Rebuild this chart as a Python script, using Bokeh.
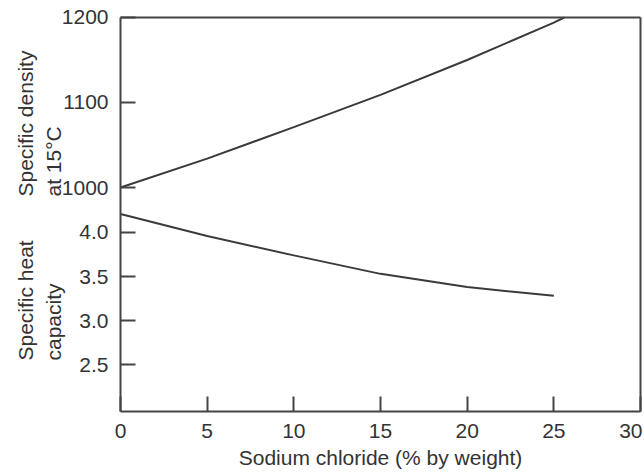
import math
from bokeh.plotting import figure
from bokeh.models import Range1d, FixedTicker, LinearAxis
from bokeh.core.properties import value
from bokeh.embed import file_html
from bokeh.resources import INLINE

# ---- data ----
nacl_pct = [0, 5, 10, 15, 20, 25]
heat_capacity = [4.21, 3.96, 3.74, 3.53, 3.38, 3.28]

density_pct = [0, 5, 10, 15, 20, 25, 25.6]
density = [1000, 1034, 1071, 1109, 1150, 1194, 1200]

x_ticks = [0, 5, 10, 15, 20, 25, 30]
heat_ticks = [2.5, 3.0, 3.5, 4.0]
heat_tick_labels = ["2.5", "3.0", "3.5", "4.0"]
density_ticks = [1000, 1100, 1200]
density_tick_labels = ["1000", "1100", "1200"]

x_title = "Sodium chloride (% by weight)"
density_title = ["Specific density", "at 15°C"]
heat_title = ["Specific heat", "capacity"]

# ---- scales ----
# The plotting box spans x 0..30, heat capacity 1.966..6.443, which is the
# same height as density 736.5..1200.  The frame is padded around the box so
# that the titles and tick labels can be drawn inside it.
BOX_X = (0.0, 30.0)
BOX_HC = (1.966, 6.443)
BOX_D = (736.5, 1200.0)
X_RANGE = (-6.923, 30.115)
HC_RANGE = (1.273, 6.636)
D_RANGE = (664.7, 1220.0)


def dens_to_hc(d):
    return BOX_HC[0] + (d - BOX_D[0]) * (BOX_HC[1] - BOX_HC[0]) / (BOX_D[1] - BOX_D[0])


FONT = "Liberation Sans"
INK = "#333333"
LINE = "#3a3a3a"
AX = "#444444"

p = figure(width=642, height=472,
           x_range=Range1d(*X_RANGE), y_range=Range1d(*HC_RANGE),
           output_backend="svg", toolbar_location=None,
           min_border_left=0, min_border_top=0, min_border_right=0,
           min_border_bottom=0)
p.extra_y_ranges = {"dens": Range1d(*D_RANGE)}

p.xgrid.visible = False
p.ygrid.visible = False
p.background_fill_color = "white"
p.border_fill_color = "white"
p.outline_line_color = None

# x axis along the bottom of the box
xa = p.xaxis[0]
xa.fixed_location = BOX_HC[0]
xa.ticker = FixedTicker(ticks=x_ticks)
xa.bounds = BOX_X
xa.major_label_text_font = FONT
xa.major_label_text_font_size = "21px"
xa.major_label_text_color = INK
xa.major_label_standoff = 12

# y axis (both scales), along the left of the box
ya = p.yaxis[0]
ya.fixed_location = BOX_X[0]
ya.bounds = BOX_HC
dens_tick_pos = [dens_to_hc(d) for d in density_ticks]
ya.ticker = FixedTicker(ticks=heat_ticks + dens_tick_pos)
overrides = {}
for t, lab in zip(heat_ticks, heat_tick_labels):
    overrides[t] = lab
for t, lab in zip(dens_tick_pos, density_tick_labels):
    overrides[t] = lab
ya.major_label_overrides = overrides
ya.major_label_text_font = FONT
ya.major_label_text_font_size = "21px"
ya.major_label_text_color = INK
ya.major_label_standoff = 12

for ax in (xa, ya):
    ax.axis_line_color = AX
    ax.axis_line_width = 2
    ax.major_tick_line_color = AX
    ax.major_tick_line_width = 2
    ax.major_tick_in = 15
    ax.major_tick_out = 0
    ax.minor_tick_line_color = None

# top and right border lines of the box
top = LinearAxis(fixed_location=BOX_HC[1], bounds=BOX_X,
                 ticker=FixedTicker(ticks=[]),
                 major_label_text_font_size="0px",
                 axis_line_color=AX, axis_line_width=2,
                 major_tick_line_color=None, minor_tick_line_color=None)
p.add_layout(top, "above")
right = LinearAxis(fixed_location=BOX_X[1], bounds=BOX_HC,
                   ticker=FixedTicker(ticks=[]),
                   major_label_text_font_size="0px",
                   axis_line_color=AX, axis_line_width=2,
                   major_tick_line_color=None, minor_tick_line_color=None)
p.add_layout(right, "right")

# curves
p.line(density_pct, density, y_range_name="dens",
       line_color=LINE, line_width=2)
p.line(nacl_pct, heat_capacity, line_color=LINE, line_width=2)

# rotated y titles (two lines each, left-aligned at the bottom)
title_x = [-5.48, -3.87]
text_kw = dict(angle=math.pi / 2, text_align="left", text_baseline="middle",
               text_font=value(FONT), text_font_size="21px", text_color=INK)
p.text(x=title_x, y=[989.4, 989.4], text=density_title,
       y_range_name="dens", **text_kw)
p.text(x=title_x, y=[2.545, 2.545], text=heat_title, **text_kw)

# x title, centred under the box
p.text(x=[(BOX_X[0] + BOX_X[1]) / 2], y=[1.443], text=[x_title],
       text_align="center", text_baseline="middle",
       text_font=value(FONT), text_font_size="21px", text_color=INK)

open("out.html", "w").write(file_html(p, INLINE))
